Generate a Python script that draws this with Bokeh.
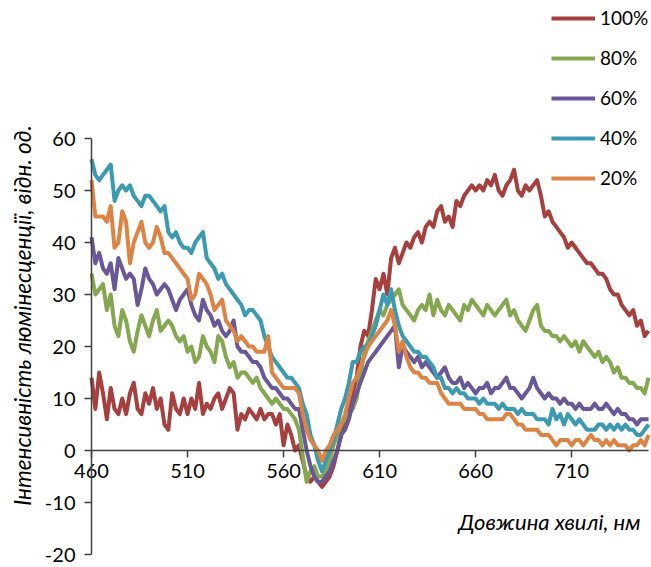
import math
from bokeh.plotting import figure
from bokeh.models import Range1d, Legend, LegendItem, Label, FixedTicker
from bokeh.embed import file_html
from bokeh.resources import INLINE

# wavelength grid (nm)
wavelength = list(range(460, 751, 2))

s100 = [14, 8, 15, 11, 6, 12, 8, 7, 10, 7, 11, 13, 8, 7, 11, 9, 12, 8, 10, 5,
        4, 11, 8, 7, 10, 7, 10, 8, 13, 7, 9, 8, 10, 11, 8, 10, 12, 11, 4, 7,
        6, 8, 7, 6, 8, 6, 7, 7, 5, 7, 1, 5, 3, 0, 1, -2, -5, -6, -5, -6,
        -7, -6, -5, -3, 0, 3, 5, 8, 11, 14, 20, 23, 22, 27, 33, 31, 34, 30, 37, 39,
        36, 38, 40, 39, 41, 42, 40, 43, 44, 43, 46, 47, 44, 45, 43, 48, 47, 49, 50, 51,
        50, 51, 50, 52, 51, 53, 50, 49, 51, 52, 54, 50, 49, 51, 50, 51, 52, 49, 45, 46,
        44, 43, 42, 41, 39, 40, 39, 38, 37, 36, 36, 35, 34, 34, 33, 31, 30, 30, 28, 27,
        26, 27, 24, 25, 22, 23]
s80 = [34, 30, 31, 32, 27, 30, 24, 22, 27, 25, 21, 19, 23, 26, 24, 22, 25, 27, 23, 24,
       25, 24, 22, 21, 22, 19, 20, 17, 18, 22, 20, 19, 17, 22, 21, 18, 16, 17, 14, 15,
       15, 14, 13, 14, 12, 11, 10, 9, 10, 9, 8, 8, 7, 6, 4, -1, -6, -4, -3, -5,
       -5, -4, -2, 1, 3, 5, 6, 7, 8, 10, 14, 19, 21, 23, 25, 27, 26, 28, 29, 30,
       31, 28, 27, 26, 25, 27, 28, 27, 30, 26, 29, 27, 26, 28, 27, 26, 25, 28, 27, 29,
       28, 27, 26, 28, 27, 26, 27, 28, 29, 26, 27, 25, 24, 23, 25, 27, 28, 24, 23, 23,
       22, 22, 21, 22, 21, 20, 21, 19, 21, 20, 19, 18, 19, 17, 18, 17, 15, 16, 14, 14,
       13, 13, 12, 12, 11, 14]
s60 = [41, 36, 38, 35, 34, 36, 31, 37, 35, 33, 34, 33, 28, 31, 35, 33, 32, 30, 31, 32,
       31, 29, 27, 29, 30, 31, 28, 26, 25, 29, 27, 26, 24, 25, 23, 22, 23, 25, 20, 19,
       19, 18, 17, 17, 16, 14, 13, 12, 12, 11, 10, 10, 9, 8, 8, 4, 0, -3, -5, -6,
       -6, -5, -4, -2, 0, 3, 4, 6, 9, 11, 13, 15, 17, 18, 19, 20, 21, 22, 23, 24,
       16, 20, 19, 18, 17, 18, 16, 17, 16, 15, 14, 15, 16, 14, 13, 13, 14, 12, 13, 12,
       11, 12, 12, 13, 11, 12, 12, 13, 14, 12, 12, 11, 10, 11, 12, 14, 12, 11, 10, 11,
       10, 10, 9, 10, 9, 9, 8, 9, 8, 8, 8, 9, 8, 8, 9, 8, 7, 8, 7, 7,
       6, 6, 5, 6, 6, 6]
s40 = [56, 53, 52, 53, 54, 55, 48, 50, 51, 50, 51, 49, 48, 47, 49, 49, 48, 47, 46, 47,
       42, 41, 42, 40, 39, 39, 38, 40, 41, 42, 37, 36, 35, 33, 34, 32, 31, 30, 29, 28,
       26, 27, 27, 26, 25, 22, 20, 18, 17, 16, 15, 14, 14, 13, 12, 9, 7, 3, 1, -2,
       -4, -2, 0, 2, 5, 8, 10, 13, 17, 17, 19, 20, 20, 22, 24, 27, 30, 28, 31, 27,
       24, 22, 21, 20, 19, 19, 18, 18, 17, 16, 14, 14, 12, 12, 11, 12, 11, 11, 10, 10,
       10, 9, 10, 9, 9, 9, 8, 9, 8, 8, 8, 7, 8, 7, 7, 7, 6, 6, 6, 5,
       8, 6, 7, 5, 7, 6, 5, 6, 5, 4, 4, 4, 5, 5, 4, 5, 4, 5, 4, 5,
       4, 4, 3, 3, 4, 5]
s20 = [52, 45, 45, 45, 44, 47, 39, 40, 46, 44, 36, 40, 42, 44, 40, 39, 40, 43, 41, 38,
       38, 37, 36, 35, 34, 33, 29, 30, 34, 33, 32, 30, 27, 28, 29, 25, 24, 23, 21, 22,
       21, 20, 20, 19, 19, 19, 22, 15, 14, 13, 12, 12, 12, 12, 11, 7, 4, 2, 1, 0,
       -2, 0, 1, 3, 4, 5, 7, 10, 13, 14, 16, 18, 20, 21, 22, 23, 24, 25, 27, 24,
       19, 21, 18, 16, 15, 15, 14, 14, 13, 13, 13, 11, 10, 9, 9, 9, 9, 8, 8, 8,
       8, 7, 7, 6, 6, 6, 6, 6, 7, 7, 6, 5, 5, 4, 4, 4, 4, 3, 3, 3,
       2, 1, 2, 2, 2, 1, 2, 2, 1, 2, 3, 2, 2, 1, 2, 1, 2, 1, 1, 1,
       0, 1, 1, 2, 1, 3]

series_labels = ["100%", "80%", "60%", "40%", "20%"]
series_values = [s100, s80, s60, s40, s20]
series_colors = ["#A6403F", "#84A750", "#6A5797", "#3B9AB2", "#DD8445"]

x_ticks = [460, 510, 560, 610, 660, 710]
y_ticks = [-20, -10, 0, 10, 20, 30, 40, 50, 60]
x_min, x_max = 460, 750
y_min, y_max = -20, 60

FONT = "Lato"
W, H = 651, 567
# plot area in canvas pixels
L, R, T, B = 91, 648, 138, 554
sx = (R - L) / (x_max - x_min)
sy = (B - T) / (y_max - y_min)

p = figure(width=W, height=H, output_backend="svg", toolbar_location=None,
           x_range=Range1d(x_min - L / sx, x_max + (W - R) / sx),
           y_range=Range1d(y_min - (H - B) / sy, y_max + T / sy),
           min_border=0)
p.outline_line_color = None
p.grid.visible = False
p.background_fill_color = "white"
p.border_fill_color = "white"

items = []
for lab, vals, col in zip(series_labels, series_values, series_colors):
    r = p.line(wavelength, vals, line_color=col, line_width=4, line_join="round")
    items.append(LegendItem(label=lab, renderers=[r]))

# axes
xa = p.xaxis[0]
xa.fixed_location = 0
xa.bounds = (x_min, x_max)
xa.ticker = FixedTicker(ticks=x_ticks)
xa.minor_tick_line_color = None
xa.major_tick_in = 0
xa.major_tick_out = 7
xa.axis_line_color = "#404040"
xa.major_tick_line_color = "#404040"
xa.axis_line_width = 1.5
xa.major_tick_line_width = 1.5
xa.major_label_text_font = FONT
xa.major_label_text_font_size = "20px"
xa.major_label_text_color = "black"
xa.major_label_standoff = 6

ya = p.yaxis[0]
ya.fixed_location = x_min
ya.bounds = (y_min, y_max)
ya.ticker = FixedTicker(ticks=y_ticks)
ya.minor_tick_line_color = None
ya.major_tick_in = 0
ya.major_tick_out = 7
ya.axis_line_color = "#404040"
ya.major_tick_line_color = "#404040"
ya.axis_line_width = 1.5
ya.major_tick_line_width = 1.5
ya.major_label_text_font = FONT
ya.major_label_text_font_size = "20px"
ya.major_label_text_color = "black"
ya.major_label_standoff = 9
ya.major_label_overrides = {-10: "-10", -20: "-20"}

# axis titles
p.add_layout(Label(x=22, y=H - 315, x_units="screen", y_units="screen",
                   text="Інтенсивність люмінесценції, відн. од.",
                   angle=math.pi / 2, text_align="center", text_baseline="middle",
                   text_font=FONT, text_font_style="italic", text_font_size="22.5px",
                   text_color="black"))
p.add_layout(Label(x=640, y=H - 521, x_units="screen", y_units="screen",
                   text="Довжина хвилі, нм", text_align="right",
                   text_baseline="middle", text_font=FONT,
                   text_font_style="italic", text_font_size="22px",
                   text_color="black"))

legend = Legend(items=items, location=(551, H - 189), orientation="vertical",
                glyph_width=44, glyph_height=20, label_height=20, spacing=17,
                label_standoff=5, padding=0, margin=0,
                border_line_color=None, background_fill_alpha=0,
                label_text_font=FONT, label_text_font_size="19px",
                label_text_color="black")
p.add_layout(legend, "center")

open("out.html", "w").write(file_html(p, INLINE))
